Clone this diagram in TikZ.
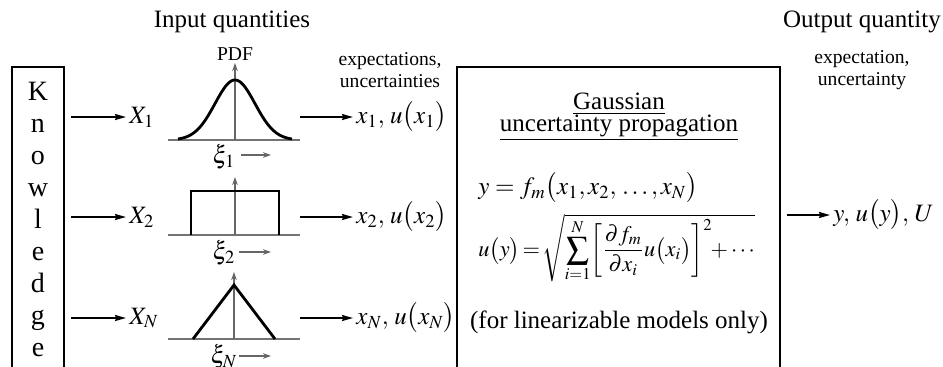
\documentclass[tikz,border=0pt]{standalone}
\usepackage{mathptmx}
\usepackage{fontspec}
\setmainfont{Liberation Serif}
\usetikzlibrary{arrows.meta}
\tikzset{
  box/.style={draw, line width=1pt, inner sep=0pt, outer sep=0pt},
  big/.style={font=\fontsize{12.5}{15}\selectfont, inner sep=0pt},
  letter/.style={font=\fontsize{14}{16}\selectfont, inner sep=0pt},
  small/.style={font=\fontsize{9.8}{11}\selectfont, inner sep=0pt},
  mathn/.style={font=\fontsize{12.5}{15}\selectfont, inner sep=1.5pt},
  eqn/.style={font=\fontsize{11.2}{13}\selectfont, inner sep=1pt},
  arr/.style={-{Stealth[length=5.5pt,width=3pt,inset=0.6pt]}, line width=0.9pt},
  garr/.style={-{Stealth[length=4pt,width=2.8pt]}, line width=0.7pt, draw=black!60},
  axisl/.style={-{Stealth[length=4pt,width=2.8pt]}, line width=0.6pt, draw=black!60},
  baseln/.style={line width=1pt, draw=black!55},
  curve/.style={line width=1.4pt, line join=miter}
}
\begin{document}
\begin{tikzpicture}[x=0.5pt,y=-0.5pt]
\useasboundingbox (0,0) rectangle (943,366);
\clip (0,0) rectangle (943,366);

% Knowledge box
\node[box, minimum width=26pt, minimum height=156.5pt] (know) at (38,223.5) {};
\foreach \l [count=\i from 0] in {K,n,o,w,l,e,d,g,e}
  \node[letter, anchor=base] (k\i) at (38,{100.6+32*\i}) {\l};

% headings
\node[big] (inq) at (232,22) {Input quantities};
\node[small, align=center] (iexp) at (390,70) {expectations,\\uncertainties};
\node[big] (outq) at (862,22) {Output quantity};
\node[small, align=center] (oexp) at (862,70) {expectation,\\uncertainty};

% input quantities
\node[mathn, anchor=west] (X1) at (126,117) {$X_1$};
\node[mathn, anchor=west] (X2) at (126,217) {$X_2$};
\node[mathn, anchor=west] (XN) at (126,318) {$X_N$};
\draw[arr, shorten <=3.5pt] (know.east |- X1.west) -- (X1.west);
\draw[arr, shorten <=3.5pt] (know.east |- X2.west) -- (X2.west);
\draw[arr, shorten <=3.5pt] (know.east |- XN.west) -- (XN.west);

% Gaussian PDF
\draw[baseln] (168,140) -- (300,140);
\draw[axisl] (235,140) -- (235,63);
\node[small] (pdf) at (235,54) {PDF};
\draw[curve] plot[domain=178:292,samples=90] (\x,{140-60*exp(-((\x-235)^2)/800)});
\node[mathn] (xi1) at (224,157) {$\xi_1$};
\draw[garr] (241,155) -- (271,155);

% rectangular PDF
\draw[baseln] (168,235) -- (300,235);
\draw[axisl] (235,235) -- (235,177);
\draw[curve] (191,235) -- (191,191) -- (279,191) -- (279,235);
\node[mathn] (xi2) at (224,253) {$\xi_2$};
\draw[garr] (239,252) -- (271,252);

% triangular PDF
\draw[baseln] (168,339) -- (300,339);
\draw[axisl] (234,339) -- (234,272);
\draw[curve] (193,339) -- (234,285) -- (275,339);
\node[mathn] (xiN) at (224,357) {$\xi_N$};
\draw[garr] (239,356) -- (271,356);

% outputs of inputs
\coordinate (o1) at (300,117);
\coordinate (o2) at (300,217);
\coordinate (oN) at (300,318);
\node[mathn, anchor=west] (x1) at (353,117) {$x_1,\, u\bigl(x_1\bigr)$};
\node[mathn, anchor=west] (x2) at (353,217) {$x_2,\, u\bigl(x_2\bigr)$};
\node[mathn, anchor=west] (xN) at (353,318) {$x_N,\, u\bigl(x_N\bigr)$};
\draw[arr] (o1) -- (x1.west);
\draw[arr] (o2) -- (x2.west);
\draw[arr] (oN) -- (xN.west);

% Gaussian propagation box
\node[box, minimum width=161.5pt, minimum height=156.5pt] (gbox) at (618.5,223.5) {};
\node[big] (gt1) at (619,104) {\underline{Gaussian}};
\node[big] (gt2) at (619,128) {\underline{uncertainty propagation}};
\node[mathn, anchor=west] (eq1) at (475,188) {$y = f_m\bigl(x_1, x_2,\, \ldots, x_N\bigr)$};
\node[eqn, anchor=west] (eq2) at (476,248) {$\displaystyle u\bigl(y\bigr)\mkern-2mu=\mkern-2mu\sqrt{\sum_{i=1}^{N}\mkern-2mu\left[\frac{\partial f_m}{\partial x_i}u\bigl(x_i\bigr)\right]^2\mkern-4mu+\cdots}$};
\node[big] (lin) at (619,322) {(for linearizable models only)};

% output
\node[mathn, anchor=west] (yo) at (830,215) {$y,\, u\bigl(y\bigr),\, U$};
\draw[arr, shorten <=3.5pt] (gbox.east |- yo.west) -- (yo.west);
\end{tikzpicture}
\end{document}
